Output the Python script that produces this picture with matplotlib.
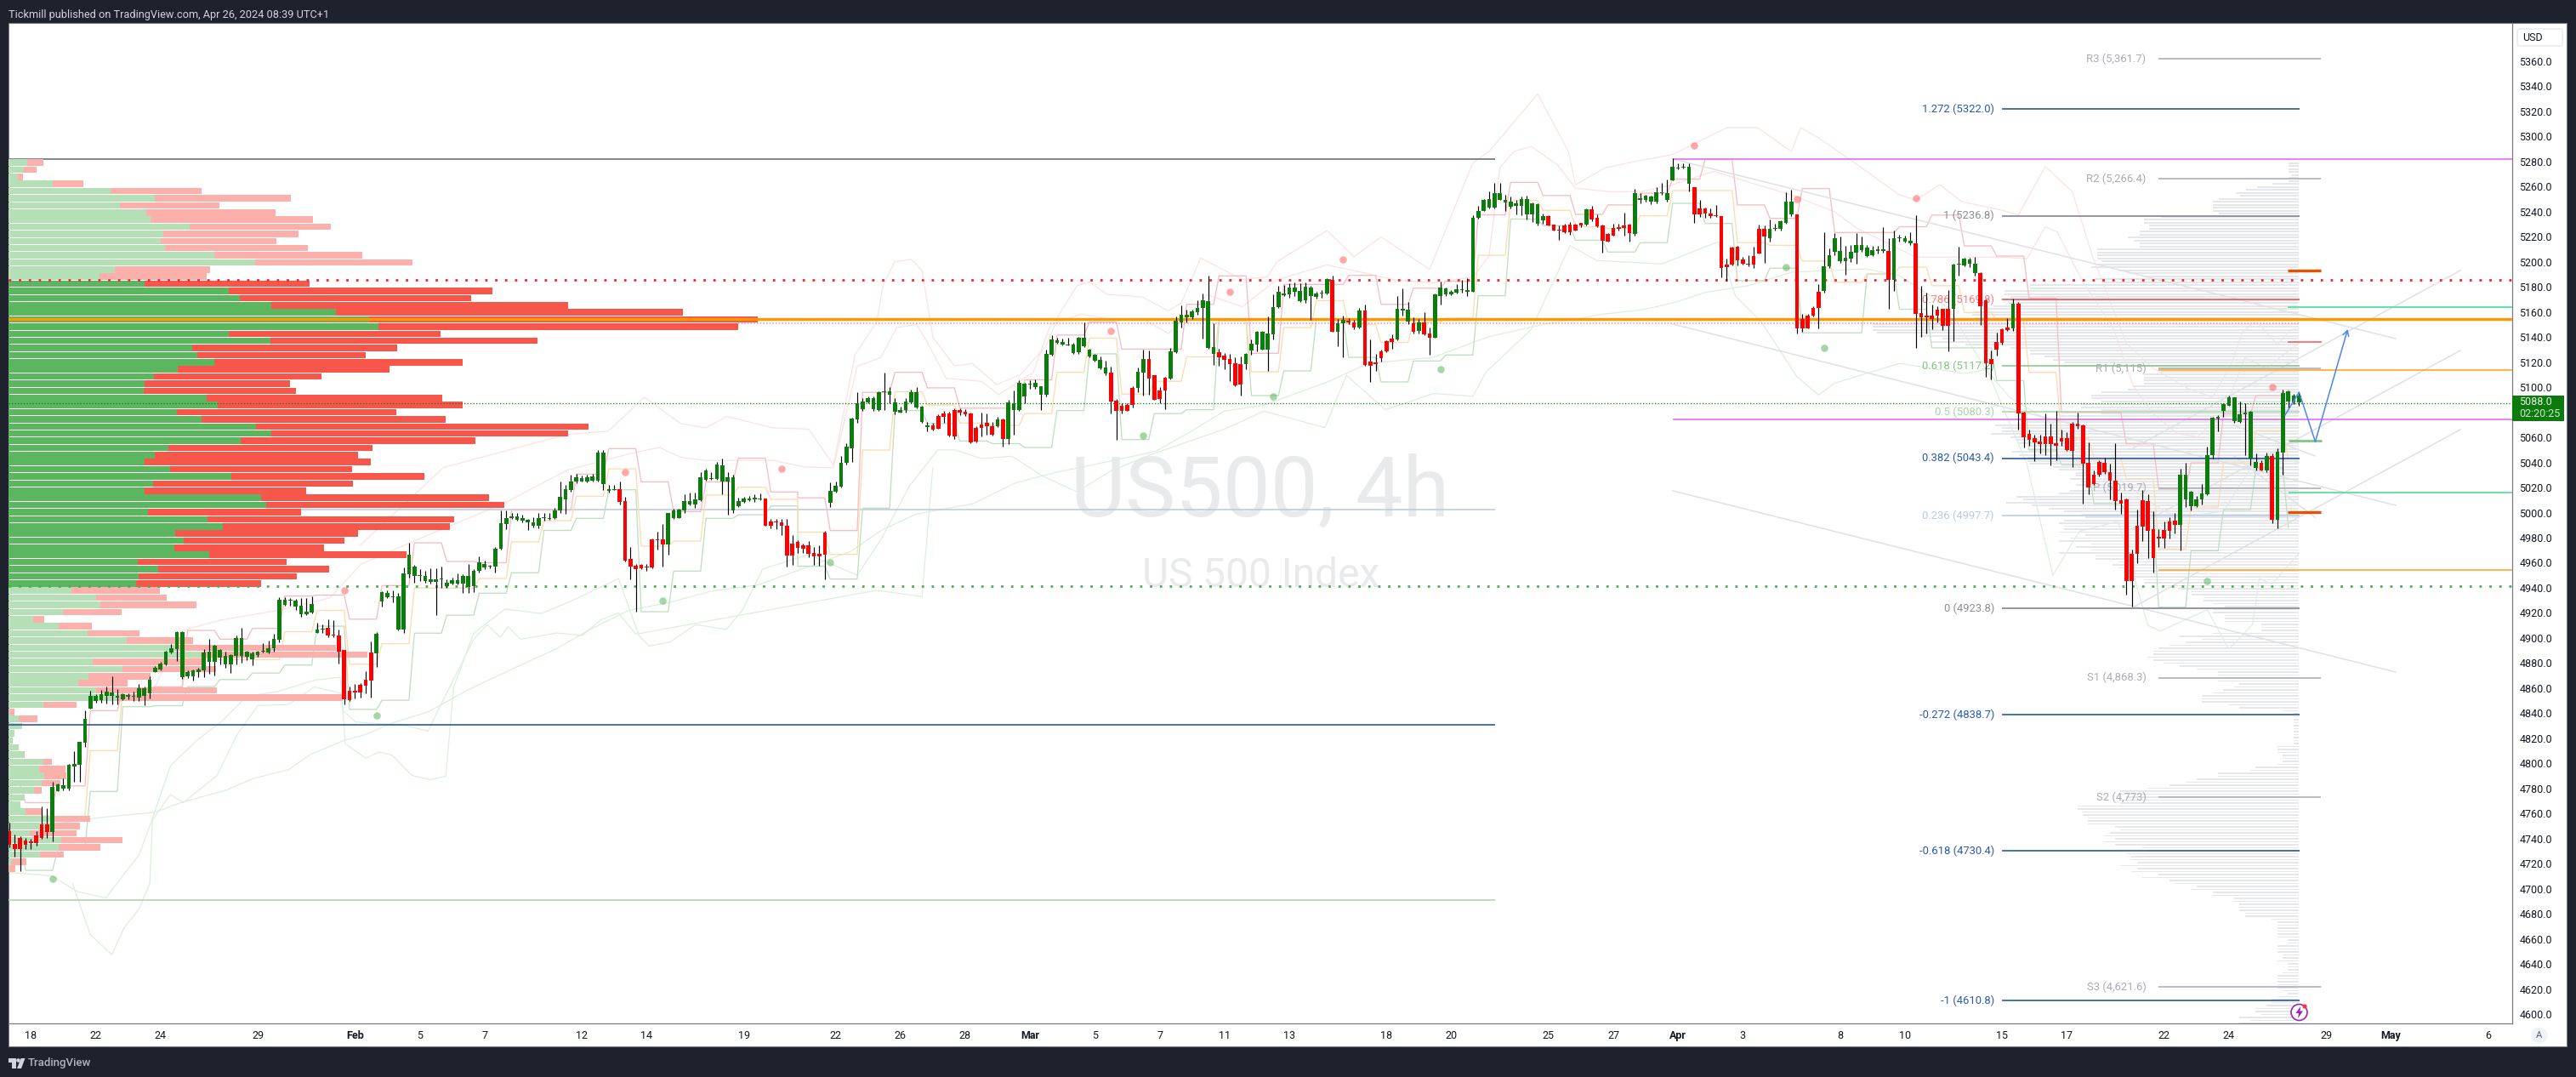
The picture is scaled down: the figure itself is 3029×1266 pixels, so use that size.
import numpy as np
import matplotlib
matplotlib.use("Agg")
import matplotlib.pyplot as plt
from matplotlib.patches import Rectangle, Circle, Polygon, FancyBboxPatch
from matplotlib.transforms import IdentityTransform

plt.rcParams['font.family'] = ['Roboto', 'DejaVu Sans']

W, H = 3029, 1266
BAR0, BAR_W = 11.0, 6.35
PX_PER_PT, PRICE0 = 1.4737, 5360.0

body_hi = [4745.8,4735.7,4740.8,4738.7,4738,4742.5,4751.4,4751.4,4781.1,4783,4782.6,4798.8,4799.6,4817,4835.8,4853.8,4853.8,4855,4856.9,4856.6,4853.8,4855.4,4854.6,4853.8,4860,4860,4866.8,4876.1,4879.4,4888.8,4891.6,4904.6,4904.6,4872.6,4873.9,4874.6,4888.3,4889,4893.6,4890.3,4885.8,4886.5,4900.2,4899.7,4888.8,4887.6,4888.8,4889.6,4891.6,4899.2,4930.4,4930.4,4930.1,4930.1,4925.8,4920.8,4927.1,4906.8,4907.6,4908,4902.8,4901.8,4890.3,4858.2,4858.2,4862.7,4866.5,4888.3,4903.5,4936.5,4936.2,4933.2,4933.5,4951.5,4966.3,4956.7,4950.2,4949.4,4946.8,4946.8,4947.3,4944.2,4946,4946,4949.4,4949.4,4953.8,4960.1,4959,4957.2,4971.5,4991.5,4995.6,4996.7,4997,4995.6,4994.4,4992.3,4995.4,4995.9,4995.4,5002,5012.5,5018.8,5024.7,5028.1,5027.6,5028.1,5028.6,5048.1,5048.1,5019,5018.8,5018.8,5009.1,4962.9,4957.7,4958,4956.7,4978.5,4978.5,4978.5,4999.5,5001.9,5002.7,5009.1,5009.1,5010.4,5028.1,5033.8,5027.6,5038.2,5037.7,5028.1,5028.1,5009.1,5011,5011.5,5011.8,5011.2,5011.2,4992.8,4992.8,4992.3,4989.2,4975.4,4976.7,4973.6,
4973.8,4967.8,4967.1,4984,5017.3,5021.4,5039.7,5052.3,5075,5087.3,5088.5,5091.6,5091.6,5095.9,5096.4,5096.4,5087.6,5082.1,5088.5,5095.9,5095.9,5084.5,5069.5,5069.5,5077.3,5079,5079,5081.6,5081.6,5080.4,5079,5067.8,5070.2,5071.4,5069,5074.2,5074.2,5087.6,5087.3,5103.5,5102.8,5102.8,5103.5,5100.7,5126.6,5138,5137.3,5136.1,5134,5134,5139.5,5139.5,5130.2,5126.1,5121.9,5115.4,5111.6,5089.2,5085.2,5085.7,5099.5,5112.3,5122.6,5122.6,5109.5,5097.6,5107.6,5128.5,5153,5157.6,5157.6,5160.7,5163.3,5169.5,5168.5,5131.9,5127.6,5125.2,5122.6,5119,5118.3,5126.6,5134.7,5144,5144.5,5142.8,5164.2,5176.1,5174.7,5179.7,5179.7,5176.9,5180.4,5179.7,5175,5175.7,5186.4,5185.7,5150.9,5154,5152.8,5151.6,5161.1,5161.1,5120.4,5119.7,5128.5,5136.6,5138.8,5162.6,5162.6,5161.9,5150.9,5151.6,5151.6,5142.8,5173.8,5179.2,5178.5,5176.4,5178,5178,5177.3,5235.2,5240.9,5249.5,
5249.9,5254.8,5254.8,5249.4,5248.1,5247,5250.2,5250.2,5246.5,5245.9,5236.5,5236.3,5229.8,5225.5,5228.8,5229.8,5229.8,5230.9,5241.6,5241.9,5235.2,5228.8,5222.3,5227.1,5227.7,5228.8,5229.8,5254.8,5250.5,5252.6,5252.4,5255.6,5255.6,5254.8,5276,5275.2,5275.7,5276,5259.9,5242.7,5242.7,5238.7,5237.3,5236.5,5197.9,5211.3,5212.1,5201.9,5198.4,5204.6,5226.1,5226.1,5226.6,5227.1,5232.5,5248.1,5248.1,5237.9,5154.7,5156.9,5163,5176.4,5196.6,5205.1,5219.1,5208.6,5203,5207.8,5213.5,5213.5,5211.3,5209.2,5210,5210,5208.4,5218.8,5219.1,5218.6,5216.9,5214.8,5159,5156.9,5156.9,5162,5162.2,5162.2,5197.9,5198.4,5202.5,5201.9,5198.4,5191.2,5169.5,5122.5,5136.2,5146.1,5147.5,5166.5,5166.5,5079.8,5063,5059.4,5056.8,5060.8,5060.8,5055.4,5059.7,5059.7,5071,5071,5069.7,5039.9,5029.9,5040.1,5039.6,5032.1,5025.4,5009.8,5010.6,4967.4,4989.4,5009.8,5009.3,4986.5,4980.6,4986.2,
4992.6,4993.5,5029.9,5029.9,5016.6,5010.5,5015.3,5045.8,5075.6,5076.3,5086.3,5091.7,5091.9,5078.1,5079.7,5080.4,5040.1,5039.7,5045.1,5045.1,5048.5,5095.3,5096.7,5093.3,5093.3]

body_lo = [4735,4731.9,4731.9,4735,4736.7,4736.4,4740.8,4745.3,4745.3,4778,4780,4780,4797.8,4799,4816.8,4843.9,4849.8,4850.5,4853.6,4853.6,4852.6,4851.3,4852.8,4853,4852.3,4853.6,4856.1,4872.8,4875.1,4879,4888.6,4891.1,4868.8,4869.3,4869.6,4872.6,4874.4,4881,4881,4884.5,4879,4879,4886,4885.8,4884.8,4883,4886.5,4888.8,4888.6,4891.6,4898.5,4926.4,4929.7,4925,4919,4919,4920.3,4904.3,4906.8,4902.3,4901.8,4889,4851,4850.3,4856.6,4856.6,4862,4866.3,4887.8,4929.1,4932.2,4932.7,4906.8,4906.6,4950.7,4949.4,4949.7,4945.5,4944.8,4945,4946.8,4941.6,4943.5,4943.7,4943.7,4940.9,4941.6,4953.3,4956.5,4956.7,4957.2,4971.5,4991,4995.4,4994.4,4993.6,4992.3,4989.7,4989.7,4995.4,4994.9,4995.4,5001.4,5010.4,5017.7,5024.7,5024.7,5024.7,5025.5,5025.5,5022.7,5017.5,5018.2,5008.6,4961.6,4957.2,4955.1,4955.9,4956.5,4956.5,4977.7,4974.6,4974.6,4995.6,4995.9,5001.4,5006.6,5006.6,5010,5026,5026.8,5026.8,5024.7,5024.7,5001.4,5005.3,5008.4,5010,5010.4,5010.4,4989.7,4989.2,4992.3,4989.2,4965.8,4965.8,4972,4971.5,
4967.1,4965.4,4965.4,4966.6,5007.8,5016.6,5020.9,5039.7,5051.1,5074.2,5082.8,5087.6,5082.8,5082.1,5095.7,5094,5080.4,5079.7,5081.6,5087.6,5084,5072.1,5068.3,5066.1,5067.1,5076.6,5061.4,5060.7,5079.7,5078.5,5055.9,5056.4,5067.8,5069,5062.3,5069,5059,5059,5081.6,5081.6,5092.8,5102.3,5099.9,5094,5094,5125.7,5135.7,5133.8,5133.5,5127.3,5128,5132.6,5124.5,5121.4,5114.7,5110.7,5088.8,5081.4,5081.4,5081.4,5086.1,5099.5,5111.9,5107.1,5090,5090.9,5097.1,5107.1,5128,5151.9,5155.9,5155.7,5160,5163,5131.4,5126.9,5123.8,5121.9,5118.5,5101.6,5102.3,5118.5,5129.2,5133.8,5130.2,5129.7,5142.3,5163.8,5173.3,5174.2,5176.1,5168.5,5169,5173,5171.9,5175,5174.7,5144.5,5144.5,5150.7,5151.4,5147.6,5147.6,5117.8,5117.3,5118.5,5123.3,5128.5,5136.4,5138,5161.1,5152.3,5144.5,5145.2,5142.3,5139.7,5139.7,5173,5173.8,5173.8,5175.7,5177.3,5176.4,5176.4,5235.2,5240.9,
5243.5,5243.5,5249.4,5247.5,5244,5244.6,5244.9,5238.1,5238.1,5230.1,5232.8,5229.3,5225.3,5225,5223.9,5223.4,5225.3,5228.8,5229.8,5234.1,5228.2,5217,5216.4,5221.2,5226.6,5227.1,5222.6,5222.3,5249.7,5249.4,5248.1,5248.1,5254.5,5249.4,5265,5274.6,5274.9,5262.6,5238.1,5237.9,5238.4,5236.3,5236.5,5195,5195.5,5197.6,5201.1,5198.4,5197.9,5197.9,5206.5,5219.9,5218.6,5226.1,5226.1,5231.4,5237.9,5146.7,5147.2,5147.2,5156.9,5163.3,5176.7,5196.6,5207.8,5200.6,5200.6,5202.5,5207.3,5209.2,5204.6,5205.1,5208.6,5208.4,5185.8,5185.8,5218.6,5215.9,5214.5,5158.2,5155.8,5155.5,5154.7,5156.9,5149.3,5149.3,5162.2,5197.6,5197.1,5198.4,5190.9,5164.9,5119.3,5118.5,5130,5135.4,5145.6,5146.9,5079,5060.3,5058.1,5056.2,5054.9,5054.9,5054.9,5053,5057,5050,5049.5,5068.8,5039.3,5020,5022.7,5029.9,5032.1,5025.4,5009.3,5007.1,4945.4,4945.4,4967.4,4988.9,4985.7,4963.7,4979.2,4979.2,
4985.4,4990.1,4990.4,5010.7,5005.3,5005.1,5010.7,5014.8,5045.8,5074.7,5080.8,5085.4,5073.2,5072.3,5078.1,5042.8,5035.6,5033.8,5033.3,4994.4,4994.4,5048,5088.8,5088.1,5087.6]

highs = [4752.7,4743,4742,4740.8,4739.5,4745.8,4765.3,4764.3,4785,4783.8,4787.7,4799.8,4809.7,4817.1,4842,4858,4854.9,4858.7,4861,4869.3,4859.4,4856,4855.6,4857.4,4863,4861.2,4869.3,4877.7,4881,4889.6,4895.4,4905.6,4905.6,4874.4,4875.1,4876.4,4891.1,4899.2,4894.7,4891,4889,4887,4901.8,4908,4889.6,4889,4889.6,4896.2,4898,4903,4932.2,4932.7,4931.7,4930.9,4931.7,4931.7,4933,4911.9,4910.6,4915,4914.4,4906.8,4890.3,4861.2,4863.2,4864.2,4873.4,4897.2,4905,4937.3,4937.8,4937.8,4936,4956,4976.2,4958.5,4954.6,4953.3,4955.4,4955.9,4957,4946.8,4948,4951.2,4950.7,4959,4954.6,4965,4961.6,4958.5,4972.8,5001.4,5001.4,5000,5000,4998,4994.9,4996.2,5000,4999.5,5000,5004,5024.7,5022.1,5029.9,5031.2,5029.2,5029.9,5031.2,5050.2,5050.2,5022.1,5022,5024.7,5012.5,4972.3,4959,4959,4959,4979.3,4984.5,4991,5000,5003.4,5003.4,5014.3,5016.2,5016.2,5032.5,5035.1,5032.5,5040.3,5042.9,5032.5,5029.9,5011.8,5012.3,5013,5014.3,5015,5011.2,4994.9,4994.9,4994.9,4994.9,4981.9,4978,4975.4,
4977.3,4972.6,4974.2,4985.2,5023.8,5024.5,5045.2,5055.2,5075.7,5095.9,5091.6,5092.8,5092.8,5096.4,5111.4,5100.4,5091.6,5084.5,5091.6,5098,5099.9,5084.9,5072.6,5071.4,5078.5,5080.9,5080.4,5083.3,5083.3,5082.8,5079.7,5069,5079.7,5079,5072.6,5076.6,5074.9,5090,5097.6,5105.2,5103.5,5105.2,5105.9,5101.1,5129.7,5141.6,5139.7,5139,5139.2,5135.2,5140.4,5151.6,5130.9,5126.9,5124.2,5121.4,5116.6,5090.9,5086.9,5086.9,5101.1,5115.4,5129.7,5129,5109.5,5100,5108.3,5131.4,5156.6,5165.4,5161.9,5161.9,5169,5174.5,5188.8,5150.7,5130.9,5127.3,5126.6,5123.8,5124.2,5127.3,5138,5145.2,5145.2,5156.4,5174.2,5180.9,5181.6,5182.8,5183.8,5182.8,5183.3,5180.9,5176.1,5177.3,5187.3,5188.8,5154.7,5157.1,5155.2,5153.5,5163,5165.9,5138,5126.9,5129.7,5137.6,5142.1,5173,5178.5,5167.8,5155.9,5154.7,5159.5,5147.6,5175,5184,5179.7,5177.3,5182.1,5185.7,5186.9,5236.9,5244.7,5250,
5256.1,5262.8,5262.8,5253.4,5252.1,5249.4,5252.1,5252.9,5247.5,5246.5,5238.7,5237.3,5229.8,5229.3,5230.6,5232,5230.6,5231.4,5242.7,5244.9,5237.9,5229.8,5222.6,5230.6,5230.6,5239.5,5230.6,5258.3,5254.8,5253.4,5252.9,5259.3,5262.8,5265.5,5282.4,5278.9,5278.9,5278.9,5259.9,5249.4,5243.2,5242.7,5245.4,5236.5,5202.5,5211.9,5212.7,5203.8,5205.1,5211.9,5229.8,5229.3,5234.1,5230.6,5233.3,5255.6,5257.5,5237.9,5158.2,5158.7,5164.4,5182.3,5223.9,5210.5,5222.6,5219.9,5212.7,5213.2,5222.6,5219.9,5213.2,5212.7,5212.7,5228,5218.6,5225.3,5221.8,5221.2,5223.9,5237.3,5181,5175.6,5166.2,5164.9,5162.8,5177.5,5198.4,5212.4,5203,5203,5203.8,5191.7,5170.3,5129.2,5143.4,5146.9,5155,5170.8,5168.1,5080.4,5066.4,5062.4,5062.4,5079,5071,5081.2,5066.4,5064.3,5072.3,5079.8,5070.5,5056.2,5033.4,5041.5,5043.6,5038.8,5055.4,5016,5011.2,4970.4,5002.6,5017.9,5014.6,5001.2,4986.5,4993.2,
4996,4999.4,5035.2,5039.7,5017.5,5013.4,5022.5,5052.6,5076.3,5077.5,5087.2,5093.3,5092.2,5088.8,5087.2,5080.9,5047.4,5041.9,5048,5046.9,5051.4,5097.8,5097.1,5094.4,5096.2]

lows = [4733,4725.5,4714,4731.9,4731.9,4734.4,4739.5,4740.8,4738,4777.5,4778.8,4778.8,4785,4785,4813,4843.4,4848.5,4848.5,4848,4847.2,4847.2,4850.5,4851,4849.8,4849.8,4846.5,4851.6,4872.6,4873.9,4878.4,4887.8,4881.5,4867.5,4868.3,4866.3,4868.8,4868.8,4871.3,4870,4879,4875.9,4872,4879,4880,4882,4878.4,4885.3,4888.6,4887.8,4889,4896.7,4925.8,4925.8,4922,4917,4918.2,4919.5,4903.8,4903.8,4900.5,4900.5,4879.4,4847.2,4849.8,4851.6,4852.3,4856.1,4852.3,4876.9,4925.1,4931.7,4928.4,4906.3,4904,4948,4944.2,4945.5,4944.2,4943.5,4918.5,4939.8,4939.8,4943,4943,4935.9,4935.7,4936.4,4952,4954.6,4955.9,4952,4970.2,4987.1,4994.9,4993.6,4992.3,4985.8,4988.4,4987.6,4993.6,4994.4,4994.9,5000,4998.8,5016.9,5023.4,5024.5,5024.2,5024.7,5024.7,5018.2,5015.7,5017.7,5006.6,4961,4946.8,4920.9,4954.6,4953.3,4955.9,4970.2,4957.2,4966.3,4994.9,4995.4,5000,5005.8,5004,5009.1,5025.2,5026,5026,5014.3,4998,5000,5004.7,5007.9,5009,5008.4,5010,4989.2,4987.6,4987.1,4981.9,4957.2,4958.5,4967.6,4967.6,
4964.2,4958.3,4957.8,4946.9,5004.2,5016.1,5020.2,5038.5,5040.4,5071.9,5081.4,5086.9,5081.4,5081.4,5082.1,5086.9,5078.5,5079.7,5079.7,5086.9,5083.3,5071.4,5065,5065.2,5066.6,5071.4,5060.7,5059,5078,5077.3,5055.4,5055.9,5060.7,5061.9,5061.4,5068.3,5052.3,5054.7,5062.3,5080.9,5086.9,5098.8,5098.8,5082.1,5092.8,5125,5135,5133.3,5133.3,5126.9,5126.9,5132.1,5123.8,5120.2,5114.2,5109.5,5079,5058.3,5079,5080.9,5083.8,5095.7,5093.5,5094,5090,5086.9,5082.6,5106.4,5127.3,5147.6,5151.9,5154.7,5157.6,5138.8,5130.9,5117.8,5117.3,5114.2,5104.7,5100.7,5093.5,5114.2,5126.1,5128.5,5129.7,5113,5138,5163,5173,5171.4,5172.6,5167.8,5167.3,5154,5170.9,5171.4,5173.8,5144.5,5132.6,5123.8,5150,5146.4,5146.9,5117.3,5104.2,5113,5120.2,5128,5130.4,5137.6,5157.1,5150,5142.8,5142.8,5141.6,5126.1,5139.2,5165.9,5173,5173.3,5175,5175.4,5173,5176.1,5234.5,5240.4,
5242.7,5242.7,5249.4,5240.6,5242.7,5237.9,5237.3,5234.1,5232,5229.3,5230.1,5228.8,5224.7,5217.2,5222.6,5221.8,5224.7,5227.7,5229.3,5232.5,5227.7,5207.3,5215.9,5220.7,5225.3,5221.2,5215.9,5220.7,5246.7,5248.1,5245.9,5246.7,5253.4,5248.1,5264.7,5273.6,5274.4,5256.1,5231.4,5236,5235.2,5235.2,5236,5187.7,5185,5197.1,5197.1,5197.6,5196.6,5195,5206.5,5199,5216.4,5225.3,5225.3,5230.6,5236.8,5142.9,5144,5146.7,5156.3,5146.9,5175.6,5195,5205.1,5199.2,5189.6,5199.8,5198.4,5207.8,5203.8,5204.6,5206.5,5207.3,5162.2,5177,5216.4,5215.3,5213.7,5131.4,5140.2,5142.9,5146.1,5151.5,5145.6,5128.7,5136.7,5189,5196.6,5195.8,5189,5149.6,5108,5105.9,5125.2,5134,5144.8,5144.8,5066.2,5052.2,5053.5,5040.9,5047.4,5045.5,5038,5041.5,5053.5,5049,5036.1,5067,5007.1,5014.6,5022.2,5028.6,5030.7,5010.6,5002.6,4999.1,4934.7,4924.8,4959.6,4977.1,4963.7,4952.4,4972.3,4971.7,
4979.5,4983.1,4969.6,5004.4,5001.7,5004.4,5006.7,5014.1,5042.8,5065,5076.3,5084.9,5071.4,5071.8,5045.8,5037.9,5033.8,5033.3,5032.2,4991.5,4987.6,5030.4,5083.1,5086.5,5085.4]

direction = ("R"*8+"G"*51+"R"*9+"G"*45+"R"*9+"G"*18+"R"*8
             +"R"*4+"G"*19+"R"*12+"G"+"R"+"G"*19+"R"*5+"G"*2+"R"*4+"G"*9+"R"*5+"G"*16+"R"+"G"*2+"R"*2+"G"+"R"*6+"G"*3+"R"+"G"+"R"*2+"G"*10
             +"G"*11+"R"*7+"G"+"R"*8+"G"*11+"R"*14+"G"*5+"R"*5+"G"*12+"R"+"G"*4+"R"*7+"G"*5+"R"*6+"G"+"R"*28
             +"R"*2+"G"*15+"R"+"G"+"R"+"G"*5)

# daily channel levels (first entry = day before the first full session)
chan_high = [4782.6,4768.6,4782,4842,4860,4861,4906,4899,4907.6,4933.5,4934.2,4915,4941.8,4975.9,4961,4960,5002,5002,5030.7,5051,5024.5,5000.8,5024.5,5043.4,5016.4,5011.8,4985.7,5095.9,5111.9,5099.5,5083.3,5083.3,5105.9,5141.6,5151.9,5130.4,5130.4,5166.1,5188.8,5127,5182,5182,5189.2,5166.1,5179,5184.5,5237.5,5263.4,5252.9,5237.9,5245.4,5254.8,5266,5281.6,5245.4,5234.7,5258.5,5223.4,5223.4,5228,5237.3,5212.7,5204.6,5171,5079.8,5079.8,5054.9,5018.7,5039.7,5078.6,5093.3,5097.8]
chan_mid = [4765,4758,4757.2,4810.2,4860,4860,4884,4882.7,4882.7,4905,4922,4879,4895.4,4939.8,4939.8,4947.4,4976.7,4993.6,5013,5034.9,4973.3,4977.2,5014,5020.3,5010.5,4984.4,4966.6,5049.9,5096.4,5085.7,5071.4,5069.5,5079,5111.9,5139.2,5094.5,5104.7,5124.2,5153.5,5112.3,5147.6,5169,5150,5135.7,5152,5155,5205.2,5248.9,5241.1,5228,5226.6,5236.8,5256.9,5256.9,5215.3,5213.2,5200.6,5183.7,5190,5195.8,5181,5159.5,5154,5111.8,5059.4,5043.5,5027,4971,5004.4,5039.7,5065.5,5043]
chan_low = [4746,4714.6,4731.9,4777.5,4845.2,4846,4861.2,4866.8,4872,4878.4,4909.4,4843,4850.3,4903.8,4918.2,4935.7,4952,4985.8,4995.4,5018.2,4920.9,4953.3,4995.4,4998.2,5005.3,4957.2,4947,5003.5,5081.4,5071,5057.1,5055,5051.9,5081.4,5126.6,5058.3,5079,5082,5153,5093.3,5113,5153.5,5123.8,5104.2,5120.9,5125.7,5173,5234.1,5229,5217.2,5207.8,5215.3,5246.7,5230.6,5185,5195,5143.4,5143.4,5190.4,5162.2,5131.4,5131.4,5105.3,5050,5038,5007.1,5000.5,4924.5,4969.6,5002.4,5035.6,4988.1]

# pale envelope curves
band_up1_x = [65,80.4,103.3,110.9,117.6,124.3,129,132.8,141.4,148,152.6,156.6,160.6,161.8,163.9,167,169,171,175,178.3,182.8,187.2,192,194.5,197.7,200,203.3,209.8,214.6,217,220.6,228.3,233,234.7,244,249,254,263,271,274,283,288.7,290,295.5,301,308,318,323.7,330,331.7,335,342,350,353,357.5,361.5,368.8,372,377,382,385.7,392,397,403.4,408,411.5,413.5,416,420,422.5,424]
band_up1_y = [4974,5036,5062.4,5065,5092,5071,5067.6,5076.7,5067.6,5066.6,5038,5126,5152,5181,5200,5202,5193,5140,5117,5119,5102,5110,5133,5159,5181,5184,5174,5172,5161,5167,5203,5186,5188,5200,5225,5204,5220,5194,5279,5288,5334,5288,5261.5,5275,5280,5285.6,5307,5307,5288,5307,5299,5278,5253.4,5249.4,5261.5,5248,5241.4,5237.3,5276,5256,5205,5135,5115,5099,5092,5119,5144,5153,5134,5146,5147]
band_up2_x = [27,31.7,39.3,49.8,59.4,65,74.6,91.8,103.3,114.7,120.4,124.3,129,141.4,147.2,152.6,157,161.4,164.3,168,170.3,173.5,180,183.2,189.6,192.8,198.5,203.3,209.8,214.6,217.8,221.8,228.3,234.7,244,249.2,256.5,263.7,271,274,276,278.6,281.8,286.6,290,296.3,302,308,315.6,323.7,330,338,342.2,353,361.5,368.8,373.6,377,379.2,384,389.7,393.3,397,401.5,405.3,410.3,414,418,420.4,424]
band_up2_y = [4861,4905.6,4914.4,4922,4932,4958.5,4976.7,5007.9,5033.8,5046.8,5052,5044,5041.6,5041.6,5036.4,5035.7,5116.6,5123.8,5147.6,5150,5133.3,5107,5104.7,5094,5111.9,5150,5158.3,5154.7,5154.7,5142.8,5154.7,5173.8,5164.2,5185.7,5197.6,5192.8,5185.7,5183.3,5188,5204.7,5275,5288,5292,5277.6,5258.8,5256,5256,5261.5,5272.2,5261.5,5253.4,5240,5226.6,5203.8,5203.8,5203.8,5202.5,5228,5224,5183.7,5146,5101,5078.6,5062.8,5060.5,5083,5123.8,5114.8,5123.8,5135]
band_lo_x = [8.8,17.4,27,31.7,40.3,45,51.7,55.6,61.8,66,70.8,77.5,85,93.7,101.4,107,114.7,122.3,130,138.6,155.8,161.4,167.9,178.4,186.4,193.7,199.3,212.2,218.6,225,232.3,244.4,251.6,263.7,271,274,284,294.7,302.7,308.4,314,322,330,343.8,350,359,366,370.4,378.4,386.5,399.4,403,410,415.4,421,424]
band_lo_y = [4752,4757,4761,4768.6,4778.8,4787.7,4795,4806.7,4818,4823,4832,4841,4858.7,4876.4,4891.6,4905.6,4922,4928.4,4937.3,4942.3,4969,4985.7,4998.8,5007,5023.8,5032,5036.9,5048.8,5064.2,5081,5085.7,5104.7,5119,5123.8,5135.7,5140.4,5150,5158,5162,5167.6,5175.6,5181,5191.7,5194.4,5189,5163.5,5114,5092,5071,5039,5000,4997,5001,5038,5042,5040]
band_mid_x = [0.2,7.8,12.6,17.9,21.2,24,26.4,29.8,34.6,39.3,44,49.8,56.5,61.3,62.2,66,68.4,70.8,74.6,78,80.8,82.3,86,91.8,98.5,104.2,112.8,116.6,118.5,122.3,127.1,132.8,135.7,139.5,148,157,161.4,166.7,171.9,175.1,180,185.6,191.6,197.7,204,210.6,217,225,232.3,243.6,247.6,254.8,263.7,271,273.4,281.8,289,294,306,316.4,319.6,324.5,331,335,338,350,362,366.2,373.6,378.4,383.3,390.5,396,398.3,407,411,415.4,416.6,419,424]
band_mid_y = [4712.9,4710.3,4697.7,4692.6,4711.6,4726.8,4754.7,4797.8,4818,4833.3,4853.6,4857.4,4866.3,4868.8,4815.6,4804,4809,4806.7,4790.2,4787,4789.7,4861,4904,4923,4919.5,4929.7,4947.4,4901.8,4893.6,4896.7,4910.6,4906.8,4922,4955,4966.6,4950,4978.5,5021.4,5050,5050,5043,5045,5028.5,5016.6,5033.3,5045,5054.7,5066.6,5080.9,5067.8,5109.5,5082,5095,5092.8,5111.9,5146,5213,5201,5198.4,5215.9,5173,5151.5,5108.5,5093.8,5103.2,5119,5111,5114,5038.8,4950,4985,4993,4910,4905.5,4922.5,4891,4911,4947.4,4943,4967.7]
band_out_x = [11.7,15,19,21.2,24,26,26.5,29.8,32.2,38.4,42.2,46,51.7,56.5,61.3,61.8,64.1,67,72.7,77.5,81.3,86,88.5,90.9,92.3,94.7,101.4,106.1,109.5,112.8,116,160.6,169,171]
band_out_y = [4704,4663.4,4647.4,4668.5,4683.7,4704,4754.7,4775,4768.6,4790,4823,4846,4847,4861,4856,4842,4833,4832,4830.8,4825.7,4858.7,4899,4910.6,4900.5,4909,4899,4904,4902,4914.4,4920,4903,4938,4933,5036]

# pivot dots
dots_red_x = [62,114,143,204,226,247,312,331,353,419]
dots_red_y = [4938,5032,5035,5144.7,5176,5201.6,5292.6,5250,5250.5,5100]
dots_green_x = [8,68,121,152,210,234,265,329,336,407]
dots_green_y = [4707.8,4838.4,4930,4960,5061.6,5092.8,5114.5,5195.8,5131.6,4945.4]

# session volume profile, up/total per row
vp_buy = [53,47,35,103,215,301,233,284,293,369,317,313,321,417,495,223,193,281,445,465,527,653,717,735,445,525,373,383,417,345,299,281,279,401,423,343,391,497,527,467,327,301,281,331,449,297,281,507,517,287,403,433,341,357,339,407,267,307,269,265,139,187,195,123,65,115,171,247,340,390,180,238,172,153,187,230,84,19,37,43,28,26,36,46,84,76,86,82,66,48,40,50,100,103,58,119,115,78,24,17]
vp_total = [84,71,45,163,391,564,426,535,607,642,579,536,597,703,801,408,401,601,956,914,1103,1325,1471,1433,855,1043,771,710,898,756,624,563,574,858,898,769,865,1142,1103,923,723,695,720,683,824,685,594,949,979,584,881,873,695,668,629,789,556,639,576,507,310,324,381,236,87,178,271,375,652,713,395,420,292,248,421,665,149,28,73,43,28,26,36,48,101,128,130,118,81,48,40,82,175,155,149,238,195,124,51,31]
vp_on = [0]*17 + [1]*43 + [0]*40

# fixed-range volume profile on the right
rp_vol = [38,38,38,38,28,38,38,93,148,188,223,208,283,303,303,303,303,283,488,548,548,528,528,563,563,603,583,563,563,713,713,713,713,698,713,733,638,603,548,718,698,948,948,1038,1038,1018,1018,1028,1078,1118,1148,1153,1148,1483,1503,1503,1503,1488,1338,1258,1298,1178,1018,948,948,898,868,828,828,
488,488,548,548,548,548,583,603,698,733,733,698,768,768,698,698,848,848,958,1073,1048,1048,1088,1018,998,988,958,958,1013,988,958,958,948,868,848,788,788,808,768,788,748,808,848,998,973,1033,943,883,828,768,753,828,848,828,828,848,753,808,848,733,788,733,848,718,718,638,658,638,603,603,603,548,548,488,428,378,378,338,338,303,263,303,303,263,263,263,
134,134,134,305,420,343,400,458,496,515,515,534,515,477,420,362,285,285,267,285,210,229,267,305,343,343,343,248,210,58,20,20,20,20,20,20,20,20,20,20,20,77,77,77,58,58,58,77,153,172,285,285,362,400,457,534,630,630,610,630,630,780,780,763,763,744,744,744,
650,630,667,687,650,687,650,553,535,610,592,592,572,630,572,592,496,553,458,439,362,382,305,305,229,229,210,210,210,190,190,97,77,77,77,77,77,77,39,39,77,77,77,58,58,77,39,39,39,58,77,77,77,77,77,58,39,77,97,97,115,154,154,134,210,172,210]

fib_levels = ["1.272","1","0.786","0.618","0.5","0.382","0.236","0","-0.272","-0.618","-1"]
fib_prices = [5322.0,5236.8,5169.8,5117.2,5080.3,5043.4,4997.7,4923.8,4838.7,4730.4,4610.8]
fib_line = ["#1a4a9c","#787b86","#e5484d","#81c784","#a5d6a7","#1a4a9c","#b2c8e8","#787b86","#1a4a9c","#1a4a9c","#1a4a9c"]
fib_text = ["#2a5caa","#8b8e97","#f77c80","#81c784","#a5d6a7","#2a5caa","#b7cbe9","#8b8e97","#2a5caa","#2a5caa","#2a5caa"]

pivot_names = ["R3","R2","R1","P","S1","S2","S3"]
pivot_prices = [5361.7,5266.4,5115.0,5019.7,4868.3,4773.0,4621.6]
pivot_labels = ["5,361.7","5,266.4","5,115","5,019.7","4,868.3","4,773","4,621.6"]

forecast_x = [421.4,424,427,433]
forecast_y = [5077.7,5096,5056.6,5146.2]

tick_bars = [4,16,28,46,64,76,88,106,118,136,153,165,177,189,201,213,225,237,255,267,285,297,309,321,339,351,369,381,399,411,429,441,459]
tick_text = ["18","22","24","29","Feb","5","7","12","14","19","22","26","28","Mar","5","7","11","13","18","20","25","27","Apr","3","8","10","15","17","22","24","29","May","6"]
price_ticks = [p for p in range(4600, 5361, 20) if p != 5080]

# ---------------------------------------------------------------------
def bx(px):
    return (px - BAR0) / BAR_W

def py(ypx):
    return PRICE0 - (ypx - 72) / PX_PER_PT

fig = plt.figure(figsize=(W/100, H/100), dpi=100, facecolor="#1e222d")

def R(x0, y0, x1, y1, **kw):
    fig.add_artist(Rectangle((x0, H-y1), x1-x0, y1-y0, transform=IdentityTransform(), **kw))

R(10, 27, 3018, 1230, facecolor="white", edgecolor="#787b86", lw=0.8, zorder=-5)

ax = fig.add_axes([10/W, 1-1203/H, 2944/W, 1176/H], facecolor="none")
ax.set_xlim(bx(10), bx(2954))
ax.set_ylim(py(1203), py(27))
for s in ["top", "left"]:
    ax.spines[s].set_visible(False)
for s in ["right", "bottom"]:
    ax.spines[s].set_color("#787b86")
    ax.spines[s].set_linewidth(0.9)
ax.yaxis.tick_right()
ax.set_yticks(price_ticks, [f"{p:.1f}" for p in price_ticks])
ax.tick_params(axis="y", length=0, pad=6, labelsize=9, labelcolor="#131722")
ax.set_xticks(tick_bars, tick_text)
ax.tick_params(axis="x", length=0, pad=6, labelsize=9, labelcolor="#131722")
for lab in ax.get_xticklabels():
    if lab.get_text() in ("Feb", "Mar", "Apr", "May"):
        lab.set_fontweight("bold")

# watermark
ax.text(bx(1259), py(606), "US500, 4h", fontsize=71.5, color="#e9eaec", va="baseline", ha="left", zorder=0.2)
ax.text(bx(1343), py(690), "US 500 Index", fontsize=34.5, color="#e9eaec", va="baseline", ha="left", zorder=0.2)

# envelopes
for xs, ys, col in [(band_up1_x, band_up1_y, "#fde1e1"), (band_up2_x, band_up2_y, "#fde1e1"),
                    (band_lo_x, band_lo_y, "#dcefdd"), (band_mid_x, band_mid_y, "#dcefdd"),
                    (band_out_x, band_out_y, "#dcefdd")]:
    ax.plot(xs, ys, color=col, lw=0.9, zorder=1)

# daily channel steps
def step_path(vals):
    xs, ys = [], []
    for i, v in enumerate(vals):
        k = i - 1
        s = 3 + 6*k if k <= 23 else 2 + 6*k
        xs += [s, s + 5]
        ys += [v, v]
    return np.array(xs[:]), np.array(ys)

for vals, col in [(chan_low, "#bfe0c0"), (chan_mid, "#fddcb0"), (chan_high, "#f7bcc3")]:
    xs, ys = step_path(vals)
    keep = xs <= 424.4
    ax.plot(xs[keep], ys[keep], color=col, lw=0.95, zorder=1.2)

# long horizontal levels
xl, xr = bx(10), bx(2954)
xe = bx(1758)
ax.hlines(py(187), xl, xe, color="#787b86", lw=1.3, zorder=1)
ax.hlines(py(1058), xl, xe, color="#b9d6ba", lw=1.3, zorder=1)
ax.hlines(py(598.5), xl, xe, color="#bcc8da", lw=1.1, zorder=1)
ax.hlines(py(852), xl, xe, color="#1a4a9c", lw=1.1, zorder=3)

# session volume profile
row_h = 5.69
vp_y = 5279.2 - row_h*np.arange(len(vp_buy))
units = 1/(1.65*BAR_W)
for y, b, t, on in zip(vp_y, vp_buy, vp_total, vp_on):
    g, r = ("#5cb660", "#f6574a") if on else ("#b5dfb7", "#fcb0ab")
    ax.barh(y, (b-17)*units, left=xl, height=row_h*0.9, color=g, lw=0, zorder=1.5)
    ax.barh(y, (t-b)*units, left=xl+(b-17)*units, height=row_h*0.9, color=r, lw=0, zorder=1.5)

# right profile
rp_y = np.linspace(py(191.7), py(1203), len(rp_vol))
ax.barh(rp_y, -np.array(rp_vol)/(3*BAR_W), left=bx(2703.3), height=1.2, color="#e6e7ea", lw=0, zorder=1.1)

# full-width levels
ax.hlines(py(329), xl, xr, color="#f6242f", lw=2.0, linestyles=(0, (1, 3.2)), zorder=3)
ax.hlines(py(689), xl, xr, color="#4caf50", lw=2.0, linestyles=(0, (1, 3.2)), zorder=3)
ax.hlines(py(473.5), xl, xr, color="#0b7b0b", lw=0.9, linestyles=(0, (1, 1.8)), zorder=3)
ax.hlines(py(375), xl, xr, color="#ff9800", lw=2.4, zorder=3)
ax.hlines(py(380.4), bx(868), bx(2704), color="#f48fa8", lw=1.1, linestyles=(0, (1, 1.4)), zorder=3)
ax.hlines(py(187), bx(1967), xr, color="#e878f2", lw=1.3, zorder=3)
ax.hlines(py(493), bx(1967), xr, color="#e878f2", lw=1.3, zorder=3)

# channel diagonals
for (x0, y0, x1, y1) in [(1967,187,2817,398),(1967,381,2817,594),(1967,577,2817,790),
                         (2506,528,2893,318),(2506,622,2893,412),(2506,715,2893,505),
                         (2627,500,2722,536),(2627,536,2722,608)]:
    ax.plot([bx(x0), bx(x1)], [py(y0), py(y1)], color="#e0e1e4", lw=1.1, zorder=1.3)

# fibonacci
fib_x0, fib_x1 = bx(2354), bx(2704)
for lvl, p, lc, tc in zip(fib_levels, fib_prices, fib_line, fib_text):
    ax.hlines(p, fib_x0, fib_x1, color=lc, lw=1.1, zorder=1.6)
    ax.text(bx(2345), p, f"{lvl} ({p:.1f})", color=tc, fontsize=9.4, ha="right", va="center", zorder=1.6)

# pivots
piv_x0, piv_x1 = bx(2538), bx(2729)
for n, p, s in zip(pivot_names, pivot_prices, pivot_labels):
    ax.hlines(p, piv_x0, piv_x1, color="#b2b5be", lw=1.3, zorder=1.6)
    ax.text(bx(2523.5), p, f"{n} ({s})", color="#a9acb5", fontsize=9.4, ha="right", va="center", zorder=1.6)

# short levels
ax.hlines(py(317.7), bx(2690), bx(2729), color="#e65100", lw=2.4, zorder=3)
ax.hlines(py(360.7), bx(2690), xr, color="#5ce6a0", lw=1.4, zorder=3)
ax.hlines(py(402), bx(2690), bx(2730), color="#ff5252", lw=1.1, zorder=3)
ax.hlines(py(435), bx(2538), xr, color="#ffa726", lw=1.2, zorder=3)
ax.hlines(py(518), bx(2691), bx(2730), color="#81c784", lw=2.0, zorder=3)
ax.hlines(py(579), bx(2691), xr, color="#4cdf94", lw=1.2, zorder=3)
ax.hlines(py(602), bx(2690), bx(2729), color="#e65100", lw=2.4, zorder=3)
ax.hlines(py(670), bx(2538), xr, color="#ffa726", lw=1.2, zorder=3)

# candles
hi, lo = np.array(body_hi), np.array(body_lo)
n = min(len(body_hi), len(body_lo), len(highs), len(lows), len(direction))
bars = np.arange(n); hi = hi[:n]; lo = lo[:n]
cols = np.array(["#0a7d0a" if d == "G" else "#ff0000" for d in direction[:n]])
ax.vlines(bars, lows[:n], highs[:n], color="#000000", lw=0.85, zorder=4)
ax.bar(bars, np.maximum(hi-lo, 0.7), bottom=lo, width=0.74, color=cols, lw=0, zorder=5)

# dots
ax.scatter(dots_red_x, dots_red_y, s=38, color="#ff5252", alpha=0.5, lw=0, zorder=6)
ax.scatter(dots_green_x, dots_green_y, s=38, color="#4caf50", alpha=0.5, lw=0, zorder=6)

# forecast path
ax.plot(forecast_x[:3], forecast_y[:3], color="#4a86f0", lw=1.1, zorder=7)
ax.annotate("", xy=(forecast_x[3], forecast_y[3]), xytext=(forecast_x[2], forecast_y[2]),
            arrowprops=dict(arrowstyle="->,head_length=0.45,head_width=0.25", color="#4a86f0", lw=1.1, shrinkA=0, shrinkB=0), zorder=7)

# chrome
fig.text(10/W, 1-18/H, "Tickmill published on TradingView.com, Apr 26, 2024 08:39 UTC+1",
         color="#d1d4dc", fontsize=9.2, ha="left", va="center")
fig.text(33/W, 1-1250/H, "TradingView", color="#b2b5be", fontsize=9.5, ha="left", va="center", fontweight="medium")
I = IdentityTransform()
logo = "#d1d4dc"
fig.add_artist(Polygon([(10,H-1244),(19,H-1244),(19,H-1256),(14,H-1256),(14,H-1249),(10,H-1249)], closed=True, transform=I, color=logo, lw=0))
fig.add_artist(Circle((21.5,H-1246.5), 2.3, transform=I, color=logo, lw=0))
fig.add_artist(Polygon([(24.5,H-1244),(29.5,H-1244),(25,H-1256),(20,H-1256)], closed=True, transform=I, color=logo, lw=0))

fig.add_artist(FancyBboxPatch((2960, H-54), 53, 20, boxstyle="round,pad=0,rounding_size=3", transform=I,
                              facecolor="white", edgecolor="#eceef3", lw=1.4, zorder=8))
fig.text(2966/W, 1-44/H, "USD", color="#131722", fontsize=9, ha="left", va="center", zorder=9)
R(2954, 465, 3015, 495, facecolor="#0b7b0b", edgecolor="none", zorder=8)
fig.text(2962/W, 1-473/H, "5088.0", color="#e8f3e8", fontsize=9, ha="left", va="center", zorder=9)
fig.text(2962/W, 1-486/H, "02:20:25", color="#cfe5cf", fontsize=9, ha="left", va="center", zorder=9)
fig.add_artist(Circle((2986, H-1217), 9.5, transform=I, facecolor="#f0f3fa", edgecolor="none", zorder=8))
fig.text(2986/W, 1-1217/H, "A", color="#5d606b", fontsize=8, ha="center", va="center", zorder=9)

# alert icon
fig.add_artist(Circle((2703.5, H-1190), 9.5, transform=I, facecolor="white", edgecolor="#9c27b0", lw=1.2, zorder=8))
fig.add_artist(Polygon([(2705,H-1183),(2699.5,H-1191),(2703,H-1191),(2702,H-1197),(2708,H-1188.5),(2704.5,H-1188.5)],
                       closed=True, transform=I, color="#9c27b0", lw=0, zorder=9))
fig.add_artist(Circle((2710, H-1183), 2.6, transform=I, color="#f23645", lw=0, zorder=9))

fig.savefig("out.png", dpi=100, facecolor=fig.get_facecolor())
